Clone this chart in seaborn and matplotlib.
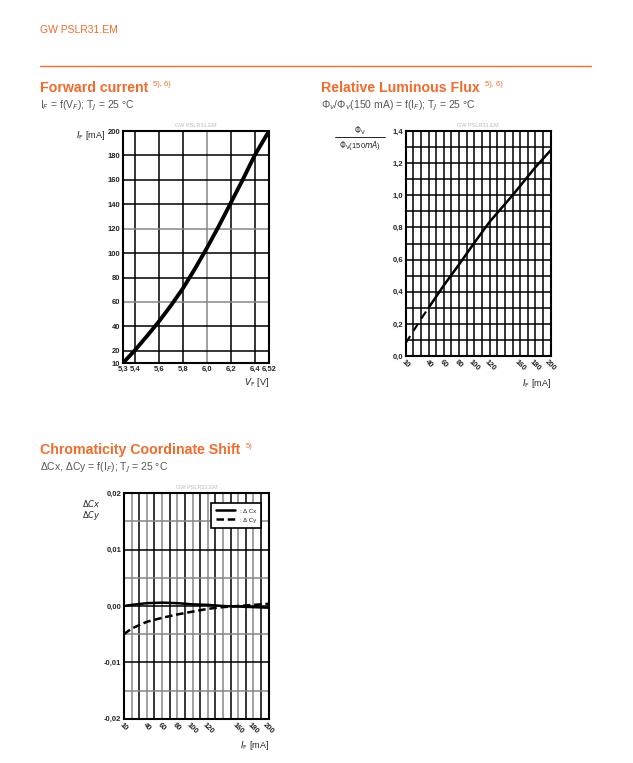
import numpy as np
import pandas as pd
import matplotlib
matplotlib.use("Agg")
import matplotlib.pyplot as plt
import seaborn as sns

# forward current curve
vf = [5.3, 5.4, 5.5, 5.6, 5.7, 5.8, 5.9, 6.0, 6.1, 6.2, 6.3, 6.4, 6.52]
i_f = [10, 20.5, 32, 44, 57, 71, 87, 104, 122, 141, 160, 180, 200]

# relative luminous flux
flux_if = [10, 20, 30, 40, 60, 80, 100, 120, 150, 180, 200]
flux_rel = [0.08, 0.155, 0.23, 0.30, 0.44, 0.57, 0.705, 0.835, 1.0, 1.175, 1.28]
flux_dash_end = 40  # dashed below this current

# chromaticity shift
chroma_if = [10, 20, 40, 60, 80, 100, 120, 140, 160, 180, 200]
d_cx = [0.0, 0.0002, 0.0005, 0.0006, 0.0005, 0.0003, 0.0002, 0.0, -0.0001, -0.0002, -0.0003]
d_cy = [-0.005, -0.0040, -0.0028, -0.0021, -0.0015, -0.0010, -0.0005, -0.0002, 0.0, 0.0002, 0.0004]

vf_ticks = [5.3, 5.4, 5.6, 5.8, 6.0, 6.2, 6.4, 6.52]
vf_labels = ["5,3", "5,4", "5,6", "5,8", "6,0", "6,2", "6,4", "6,52"]
cur_ticks = [10, 40, 60, 80, 100, 120, 160, 180, 200]

ORANGE = "#f26b2a"
GREY = "#555555"

sns.set_style("white")
plt.rcParams['font.family'] = ['Liberation Sans', 'DejaVu Sans']

fig = plt.figure(figsize=(6.33, 7.63), dpi=100)

# header
fig.text(40 / 633, 1 - 30 / 763, "GW PSLR31.EM", color=ORANGE, fontsize=7.5, va="center")
fig.add_artist(plt.Line2D([40 / 633, 591 / 633], [1 - 66 / 763] * 2, color=ORANGE, lw=1))


def head(x, y, title, sup, sub):
    t = fig.text(x / 633, 1 - y / 763, title, color=ORANGE, fontsize=10.2,
                 fontweight="bold", va="center")
    fig.canvas.draw()
    bb = t.get_window_extent()
    fig.text((bb.x1 + 5) / 633, 1 - (y - 4) / 763, sup, color=ORANGE, fontsize=5.5, va="center")
    fig.text(x / 633, 1 - (y + 18) / 763, sub, color=GREY, fontsize=7.5, va="center")


def grid(ax, xs, ys, gray_x=(), gray_y=()):
    for v in xs:
        ax.axvline(v, color="#888888" if v in gray_x else "black", lw=1.1, zorder=1)
    for v in ys:
        ax.axhline(v, color="#888888" if v in gray_y else "black", lw=1.1, zorder=1)
    for s in ax.spines.values():
        s.set_color("black")
        s.set_linewidth(1.5)
    ax.tick_params(labelsize=5.5, length=0, pad=2)
    for lab in ax.get_xticklabels() + ax.get_yticklabels():
        lab.set_fontweight("bold")


def watermark(ax):
    ax.text(0.5, 1.015, "GW PSLR31.EM", transform=ax.transAxes, ha="center",
            va="bottom", fontsize=4, color="#bbbbbb")


head(40, 88, "Forward current", "5), 6)", "I$_F$ = f(V$_F$); T$_J$ = 25 °C")
head(321, 88, "Relative Luminous Flux", "5), 6)",
     "Φ$_v$/Φ$_v$(150 mA) = f(I$_F$); T$_J$ = 25 °C")
head(40, 450, "Chromaticity Coordinate Shift", "5)",
     "ΔCx, ΔCy = f(I$_F$); T$_J$ = 25 °C")

# chart 1
ax1 = fig.add_axes([123 / 633, 1 - 363 / 763, 146 / 633, 232 / 763])
df1 = pd.DataFrame({"vf": vf, "if": i_f})
sns.lineplot(data=df1, x="vf", y="if", ax=ax1, color="black", lw=2.8, zorder=3)
ax1.set_xlim(5.3, 6.52)
ax1.set_ylim(10, 200)
ax1.set_xticks(vf_ticks)
ax1.set_xticklabels(vf_labels)
ax1.set_yticks([10, 20, 40, 60, 80, 100, 120, 140, 160, 180, 200])
ax1.set_xlabel("")
ax1.set_ylabel("")
grid(ax1, [5.4, 5.6, 5.8, 6.0, 6.2, 6.4], [20, 40, 60, 80, 100, 120, 140, 160, 180],
     gray_x=(6.0,), gray_y=(60, 120))
watermark(ax1)
ax1.text(-0.12, 0.98, "$I_{\\mathrm{F}}$ [mA]", transform=ax1.transAxes, ha="right",
         va="center", fontsize=6.5)
ax1.text(1.0, -0.085, "$V_{\\mathrm{F}}$ [V]", transform=ax1.transAxes, ha="right",
         va="center", fontsize=6.5)

# chart 2
ax2 = fig.add_axes([405.7 / 633, 1 - 356 / 763, 145 / 633, 225 / 763])
df2 = pd.DataFrame({"if": flux_if, "rel": flux_rel})
lo = df2[df2["if"] <= flux_dash_end]
hi = df2[df2["if"] >= flux_dash_end]
sns.lineplot(data=lo, x="if", y="rel", ax=ax2, color="black", lw=1.5, ls=(0, (4, 3)), zorder=3)
sns.lineplot(data=hi, x="if", y="rel", ax=ax2, color="black", lw=1.8, zorder=3)
ax2.set_xlim(10, 200)
ax2.set_ylim(0, 1.4)
ax2.set_xticks(cur_ticks)
ax2.set_xticklabels([str(v) for v in cur_ticks], rotation=-45, ha="center")
ax2.set_yticks(np.arange(0, 1.41, 0.2))
ax2.set_yticklabels([f"{v:.1f}".replace(".", ",") for v in np.arange(0, 1.41, 0.2)])
ax2.set_xlabel("")
ax2.set_ylabel("")
grid(ax2, list(range(20, 200, 10)), list(np.round(np.arange(0.1, 1.4, 0.1), 1)))
watermark(ax2)
ax2.text(-0.315, 1.0, "$\\mathit{\\Phi}_\\mathrm{V}$", transform=ax2.transAxes,
         ha="center", va="center", fontsize=5.5)
ax2.add_artist(plt.Line2D([-0.49, -0.14], [0.973, 0.973], transform=ax2.transAxes,
                          color="black", lw=0.6, clip_on=False))
ax2.text(-0.315, 0.935, "$\\mathit{\\Phi}_\\mathrm{V}$(150$\\mathit{mA}$)",
         transform=ax2.transAxes, ha="center", va="center", fontsize=5.5)
ax2.text(1.0, -0.12, "$I_{\\mathrm{F}}$ [mA]", transform=ax2.transAxes, ha="right",
         va="center", fontsize=6.5)

# chart 3
ax3 = fig.add_axes([124 / 633, 1 - 718.7 / 763, 144.7 / 633, 225.4 / 763])
df3 = pd.DataFrame({"if": chroma_if, "cx": d_cx, "cy": d_cy})
sns.lineplot(data=df3, x="if", y="cx", ax=ax3, color="black", lw=1.8, zorder=3,
             label=": Δ Cx")
sns.lineplot(data=df3, x="if", y="cy", ax=ax3, color="black", lw=1.8, ls=(0, (3, 1.5)),
             zorder=3, label=": Δ Cy")
ax3.set_xlim(10, 200)
ax3.set_ylim(-0.02, 0.02)
ax3.set_xticks(cur_ticks)
ax3.set_xticklabels([str(v) for v in cur_ticks], rotation=-45, ha="center")
ax3.set_yticks([-0.02, -0.01, 0.0, 0.01, 0.02])
ax3.set_yticklabels(["-0,02", "-0,01", "0,00", "0,01", "0,02"])
ax3.set_xlabel("")
ax3.set_ylabel("")
grid(ax3, list(range(20, 200, 10)), [-0.015, -0.01, -0.005, 0.0, 0.005, 0.01, 0.015],
     gray_x=tuple(range(20, 200, 20)), gray_y=(-0.015, 0.015, 0.005, -0.005))
watermark(ax3)
leg = ax3.legend(loc="upper right", fontsize=4.5, frameon=True, fancybox=False,
                 handlelength=3.0, borderpad=0.8, labelspacing=0.6,
                 bbox_to_anchor=(0.97, 0.97))
leg.get_frame().set_edgecolor("black")
leg.get_frame().set_linewidth(1.2)
leg.get_frame().set_alpha(1)
leg.set_zorder(5)
ax3.text(-0.16, 0.98, "$\\mathit{\\Delta Cx}$\n$\\mathit{\\Delta Cy}$",
         transform=ax3.transAxes, ha="right", va="top", fontsize=6, linespacing=1.0)
ax3.text(1.0, -0.12, "$I_{\\mathrm{F}}$ [mA]", transform=ax3.transAxes, ha="right",
         va="center", fontsize=6.5)

fig.savefig("out.png", dpi=100)
